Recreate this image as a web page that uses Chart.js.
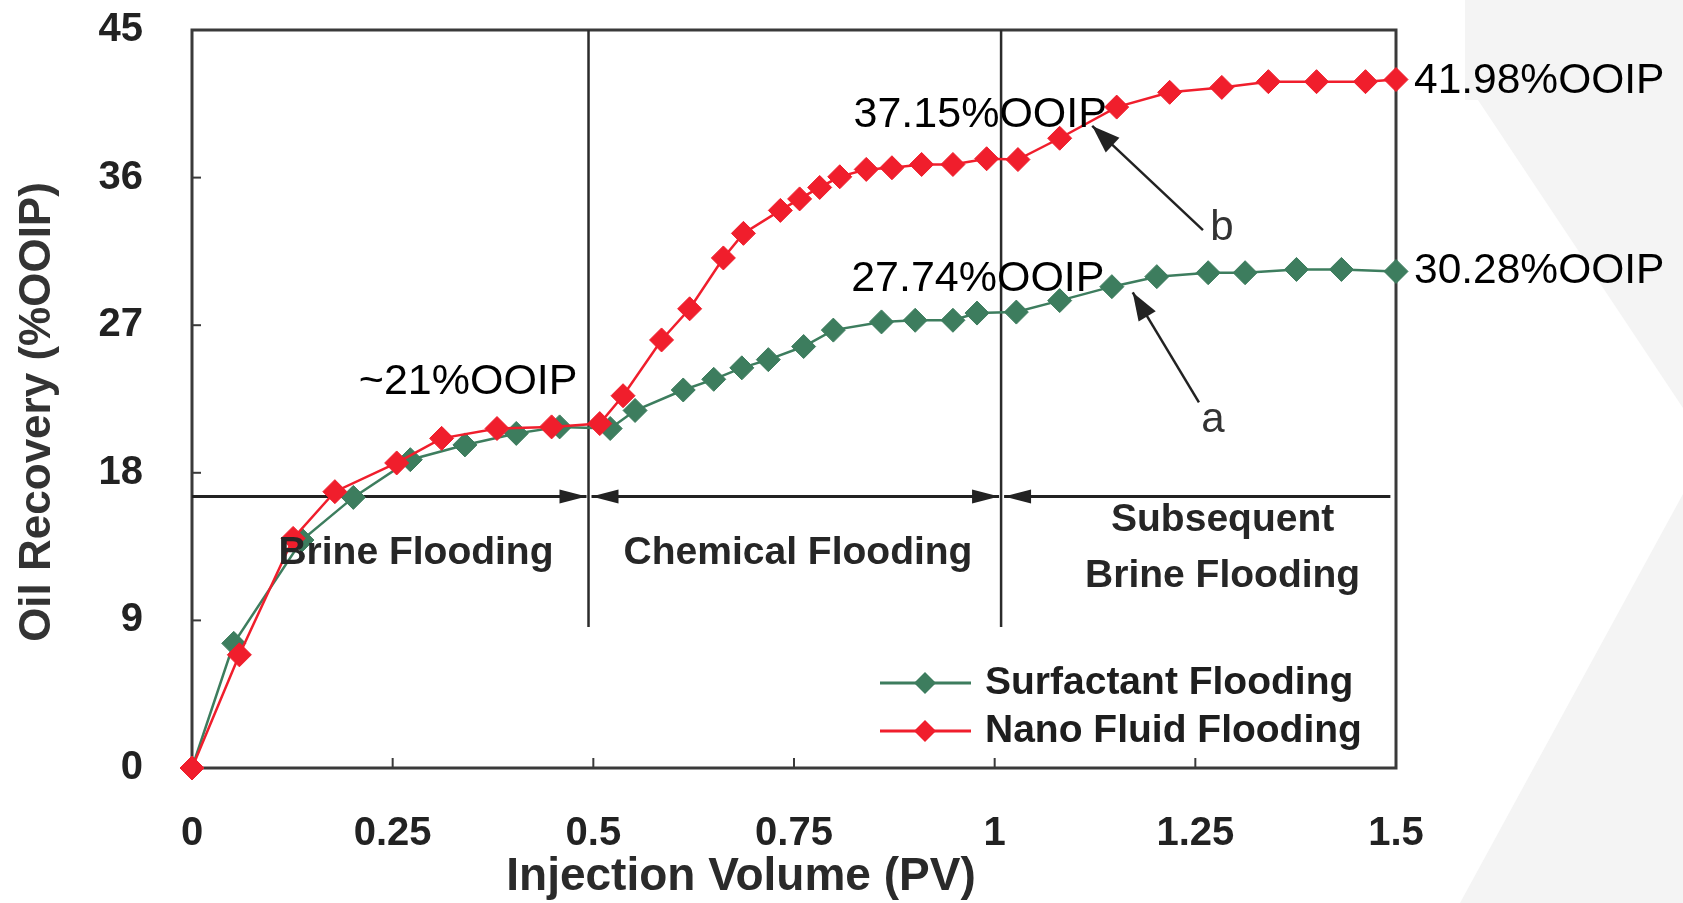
<!DOCTYPE html>
<html>
<head>
<meta charset="utf-8">
<title>Oil Recovery vs Injection Volume</title>
<script src="https://cdn.jsdelivr.net/npm/chart.js@4.4.0/dist/chart.umd.min.js"></script>
<style>
  html, body { margin: 0; padding: 0; background: #fff; }
  canvas { display: block; }
</style>
</head>
<body>
<canvas id="recoveryChart" width="1683" height="903"></canvas>
<script>
// data
const surfactantPV = [0, 0.052, 0.137, 0.201, 0.272, 0.340, 0.404, 0.458, 0.521, 0.552, 0.612, 0.650, 0.685, 0.718, 0.762, 0.799, 0.859, 0.901, 0.948, 0.978, 1.027, 1.081, 1.146, 1.202, 1.266, 1.312, 1.376, 1.432, 1.5];
const surfactantRecovery = [0, 7.6, 13.9, 16.5, 18.8, 19.7, 20.4, 20.8, 20.7, 21.8, 23.05, 23.7, 24.4, 24.9, 25.7, 26.7, 27.2, 27.3, 27.3, 27.74, 27.8, 28.5, 29.35, 29.96, 30.2, 30.2, 30.4, 30.4, 30.28];

const nanoPV = [0, 0.059, 0.126, 0.178, 0.255, 0.311, 0.380, 0.448, 0.508, 0.537, 0.585, 0.620, 0.662, 0.687, 0.733, 0.757, 0.782, 0.807, 0.840, 0.872, 0.909, 0.948, 0.990, 1.029, 1.081, 1.152, 1.218, 1.283, 1.341, 1.401, 1.462, 1.5];
const nanoRecovery = [0, 6.9, 14.0, 16.85, 18.6, 20.1, 20.7, 20.8, 21.0, 22.7, 26.1, 28.0, 31.1, 32.6, 34.0, 34.7, 35.4, 36.05, 36.5, 36.6, 36.8, 36.8, 37.15, 37.1, 38.4, 40.3, 41.2, 41.5, 41.85, 41.85, 41.85, 41.98];

const seriesNames = ['Surfactant Flooding', 'Nano Fluid Flooding'];
const xTickLabels = ['0', '0.25', '0.5', '0.75', '1', '1.25', '1.5'];
const yTickLabels = ['0', '9', '18', '27', '36', '45'];
const axisTitles = {x: 'Injection Volume (PV)', y: 'Oil Recovery (%OOIP)'};

const phaseBounds = [0.494, 1.008];
const phaseNames = [['Brine Flooding'], ['Chemical Flooding'], ['Subsequent', 'Brine Flooding']];

const GREEN = '#3d7d5e';
const RED = '#f01e2c';
const FONT = '"Liberation Sans", Arial, Helvetica, sans-serif';

const toPoints = (xs, ys) => xs.map((x, i) => ({x: x, y: ys[i]}));

function px(chart, x, y) {
    return [chart.scales.x.getPixelForValue(x), chart.scales.y.getPixelForValue(y)];
}

function arrowHead(ctx, fx, fy, tx, ty, len, half) {
    const a = Math.atan2(ty - fy, tx - fx);
    const bx = tx - len * Math.cos(a);
    const by = ty - len * Math.sin(a);
    ctx.beginPath();
    ctx.moveTo(tx, ty);
    ctx.lineTo(bx + half * Math.sin(a), by - half * Math.cos(a));
    ctx.lineTo(bx - half * Math.sin(a), by + half * Math.cos(a));
    ctx.closePath();
    ctx.fill();
}

function diamond(ctx, x, y, r, color) {
    ctx.fillStyle = color;
    ctx.beginPath();
    ctx.moveTo(x, y - r);
    ctx.lineTo(x + r, y);
    ctx.lineTo(x, y + r);
    ctx.lineTo(x - r, y);
    ctx.closePath();
    ctx.fill();
}

// light grey slide shapes behind everything
const backdrop = {
    id: 'backdrop',
    beforeDraw(chart) {
        const ctx = chart.ctx;
        ctx.save();
        ctx.fillStyle = '#ffffff';
        ctx.fillRect(0, 0, chart.width, chart.height);
        ctx.fillStyle = '#f4f4f4';
        ctx.beginPath();
        ctx.moveTo(1465, 0);
        ctx.lineTo(1683, 0);
        ctx.lineTo(1683, 408);
        ctx.lineTo(1478, 100);
        ctx.lineTo(1465, 100);
        ctx.closePath();
        ctx.fill();
        ctx.beginPath();
        ctx.moveTo(1683, 494);
        ctx.lineTo(1683, 903);
        ctx.lineTo(1460, 903);
        ctx.closePath();
        ctx.fill();
        ctx.restore();
    }
};

// plot frame, inner ticks and phase dividers
const frame = {
    id: 'frame',
    beforeDatasetsDraw(chart) {
        const ctx = chart.ctx;
        const area = chart.chartArea;
        const xs = chart.scales.x, ys = chart.scales.y;
        ctx.save();
        ctx.strokeStyle = '#3a3a3a';
        ctx.lineWidth = 3;
        ctx.strokeRect(area.left, area.top, area.right - area.left, area.bottom - area.top);

        ctx.lineWidth = 2;
        ys.ticks.forEach(t => {
            if (t.value <= ys.min || t.value >= ys.max) return;
            const y = ys.getPixelForValue(t.value);
            ctx.beginPath();
            ctx.moveTo(area.left, y);
            ctx.lineTo(area.left + 9, y);
            ctx.stroke();
        });
        xs.ticks.forEach(t => {
            if (t.value <= xs.min || t.value >= xs.max) return;
            const x = xs.getPixelForValue(t.value);
            ctx.beginPath();
            ctx.moveTo(x, area.bottom);
            ctx.lineTo(x, area.bottom - 10);
            ctx.stroke();
        });

        // vertical phase lines
        ctx.strokeStyle = '#2b2b2b';
        ctx.lineWidth = 2.5;
        phaseBounds.forEach(b => {
            const [x, y0] = px(chart, b, ys.max);
            const y1 = ys.getPixelForValue(8.6);
            ctx.beginPath();
            ctx.moveTo(x, y0);
            ctx.lineTo(x, y1);
            ctx.stroke();
        });

        // horizontal phase arrows
        const ay = ys.getPixelForValue(16.55);
        const b0 = xs.getPixelForValue(phaseBounds[0]);
        const b1 = xs.getPixelForValue(phaseBounds[1]);
        const segs = [
            [area.left, b0 - 2, false, true],
            [b0 + 3, b1 - 2, true, true],
            [b1 + 3, xs.getPixelForValue(1.493), true, false]
        ];
        ctx.strokeStyle = '#222';
        ctx.fillStyle = '#222';
        ctx.lineWidth = 3;
        segs.forEach(([s, e, headStart, headEnd]) => {
            ctx.beginPath();
            ctx.moveTo(s, ay);
            ctx.lineTo(e, ay);
            ctx.stroke();
            if (headStart) arrowHead(ctx, e, ay, s, ay, 27, 7);
            if (headEnd) arrowHead(ctx, s, ay, e, ay, 27, 7);
        });
        ctx.restore();
    }
};

// axis titles, text notes, pointer arrows and the legend
const notes = {
    id: 'notes',
    afterDatasetsDraw(chart) {
        const ctx = chart.ctx;
        ctx.save();
        ctx.textAlign = 'center';
        ctx.textBaseline = 'middle';

        // axis titles (the figure has them off-centre)
        ctx.font = 'bold 46px ' + FONT;
        ctx.fillStyle = '#2a2a2a';
        ctx.fillText(axisTitles.x, 741, 877);
        ctx.save();
        ctx.translate(38, 412);
        ctx.rotate(-Math.PI / 2);
        ctx.font = 'bold 44px ' + FONT;
        ctx.fillStyle = '#333';
        ctx.fillText(axisTitles.y, 0, 0);
        ctx.restore();

        // phase names
        ctx.fillStyle = '#262626';
        ctx.font = 'bold 39px ' + FONT;
        const phasePos = [[0.279, 13.1], [0.755, 13.1], [1.284, 13.4]];
        phaseNames.forEach((lines, i) => {
            const [x, y] = px(chart, phasePos[i][0], phasePos[i][1]);
            const off = (lines.length - 1) * 28;
            lines.forEach((ln, j) => ctx.fillText(ln, x, y - off + j * 56));
        });

        // recovery values
        ctx.fillStyle = '#000';
        ctx.font = '43px ' + FONT;
        const midNotes = [['~21%OOIP', 0.344, 23.5], ['37.15%OOIP', 0.982, 39.8], ['27.74%OOIP', 0.979, 29.8]];
        midNotes.forEach(([txt, x, y]) => {
            const [cx, cy] = px(chart, x, y);
            ctx.fillText(txt, cx, cy);
        });
        ctx.textAlign = 'left';
        ctx.font = '42.5px ' + FONT;
        const ends = [
            [nanoPV[nanoPV.length - 1], nanoRecovery[nanoRecovery.length - 1], 2],
            [surfactantPV[surfactantPV.length - 1], surfactantRecovery[surfactantRecovery.length - 1], 0]
        ];
        ends.forEach(([x, y, dy]) => {
            const [ex, ey] = px(chart, x, y);
            ctx.fillText(y.toFixed(2) + '%OOIP', ex + 18, ey + dy);
        });

        // pointer arrows a and b
        const pointers = [['b', [1.2595, 32.8], [1.1215, 39.15], [1.283, 32.9]], ['a', [1.2545, 22.3], [1.172, 29.0], [1.272, 21.2]]];
        ctx.strokeStyle = '#222';
        ctx.lineWidth = 2.5;
        pointers.forEach(([txt, tail, tip, lab]) => {
            const [tx, ty] = px(chart, tail[0], tail[1]);
            const [hx, hy] = px(chart, tip[0], tip[1]);
            ctx.beginPath();
            ctx.moveTo(tx, ty);
            ctx.lineTo(hx, hy);
            ctx.stroke();
            ctx.fillStyle = '#222';
            arrowHead(ctx, tx, ty, hx, hy, 28, 10);
            const [lx, ly] = px(chart, lab[0], lab[1]);
            ctx.fillStyle = '#333';
            ctx.font = '42px ' + FONT;
            ctx.textAlign = 'center';
            ctx.fillText(txt, lx, ly);
        });

        // legend
        const legendOrder = [1, 0];
        ctx.font = 'bold 39px ' + FONT;
        ctx.textAlign = 'left';
        legendOrder.forEach((di, row) => {
            const ds = chart.data.datasets[di];
            const y = 683 + row * 48;
            ctx.strokeStyle = ds.borderColor;
            ctx.lineWidth = 3;
            ctx.beginPath();
            ctx.moveTo(880, y);
            ctx.lineTo(971, y);
            ctx.stroke();
            diamond(ctx, 925, y, 11, ds.borderColor);
            ctx.fillStyle = '#1e1e1e';
            ctx.fillText(ds.label, 985, y);
        });
        ctx.restore();
    }
};

const seriesStyle = (color) => ({
    borderColor: color,
    backgroundColor: color,
    pointBackgroundColor: color,
    pointBorderColor: color,
    borderWidth: 2.5,
    pointStyle: 'rectRot',
    pointRadius: 12,
    pointBorderWidth: 1,
    tension: 0,
    clip: false
});

const chartCanvas = document.getElementById('recoveryChart');

const recoveryChart = new Chart(chartCanvas, {
    type: 'line',
    data: {
        datasets: [
            Object.assign({label: seriesNames[1], data: toPoints(nanoPV, nanoRecovery), order: 0}, seriesStyle(RED)),
            Object.assign({label: seriesNames[0], data: toPoints(surfactantPV, surfactantRecovery), order: 1}, seriesStyle(GREEN))
        ]
    },
    options: {
        responsive: false,
        animation: false,
        devicePixelRatio: 1,
        layout: {padding: {top: 30, right: 287, left: 0, bottom: 0}},
        plugins: {
            legend: {display: false},
            tooltip: {enabled: false}
        },
        scales: {
            x: {
                type: 'linear',
                min: 0,
                max: 1.5,
                grid: {display: false, drawTicks: false},
                border: {display: false},
                ticks: {
                    stepSize: 0.25,
                    padding: 42,
                    color: '#222',
                    font: {family: FONT, size: 40, weight: 'bold'},
                    callback: (v, i) => xTickLabels[i]
                },
                title: {display: false},
                afterFit(scale) {
                    scale.height = 135;
                    scale.paddingLeft = scale.paddingRight = 0;
                }
            },
            y: {
                min: 0,
                max: 45,
                grid: {display: false, drawTicks: false},
                border: {display: false},
                ticks: {
                    stepSize: 9,
                    padding: 49,
                    color: '#222',
                    font: {family: FONT, size: 40, weight: 'bold'},
                    callback: (v, i) => yTickLabels[i]
                },
                title: {display: false},
                afterFit(scale) {
                    scale.width = 192;
                    scale.paddingTop = scale.paddingBottom = 0;
                }
            }
        }
    },
    plugins: [backdrop, frame, notes]
});
</script>
</body>
</html>
